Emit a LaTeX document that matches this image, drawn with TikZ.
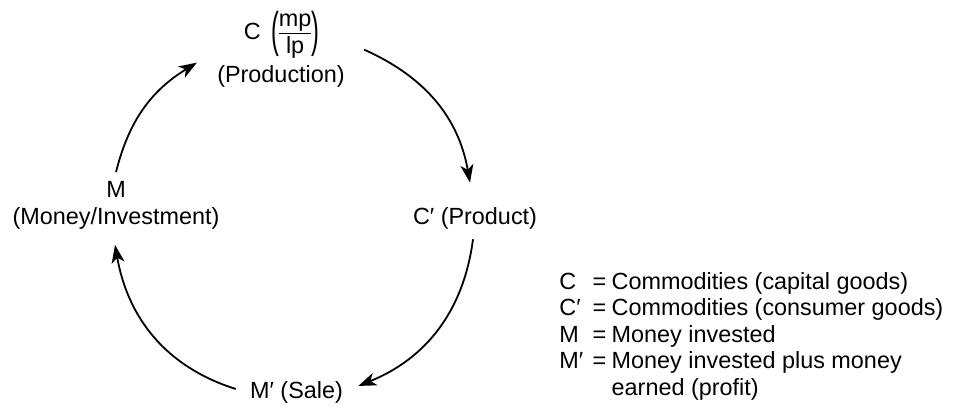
\documentclass[tikz,border=0pt]{standalone}
\usepackage{graphicx}
\usepackage{fontspec}
\setmainfont{Liberation Sans}
\usepackage{tikz}
\usetikzlibrary{arrows.meta}
\newcommand{\keyrow}[2]{\makebox[1.42em][l]{#1}=\hspace{2.7pt}#2}
\newcommand{\tallparen}[1]{\raisebox{-3.4pt}{\scalebox{1}[2.08]{#1}}}
\newcommand{\stagefrac}[2]{%
  \setbox0=\hbox{#1}\setbox2=\hbox{#2}%
  \dimen0=\wd0 \ifdim\wd2>\dimen0 \dimen0=\wd2 \fi
  \raisebox{-6.86pt}{\vbox{\hbox to\dimen0{\hss\box0\hss}\kern1pt
    \hrule height 0.5pt\kern1.2pt\hbox to\dimen0{\hss\box2\hss}}}}

\begin{document}
\begin{tikzpicture}[
  x=0.5pt, y=0.5pt,
  every node/.style={font=\fontsize{11.7}{13.5}\selectfont, inner sep=3pt},
  stagelabel/.style={align=center},
  cyclelink/.style={
    -{Stealth[length=9pt, width=6.5pt, inset=2.5pt]},
    line width=0.9pt,
  },
  keytext/.style={
    font=\fontsize{11.7}{13.25}\selectfont,
    anchor=north west,
    inner sep=0pt,
    align=left,
  },
]
  \useasboundingbox (0,0) rectangle (956,408);

  \node[stagelabel, anchor=base] (cmp) at (281.5,368)
    {C\hspace{5.2pt}\tallparen{(}\stagefrac{mp}{lp}\tallparen{)}};
  \node[stagelabel, anchor=base] (prod) at (281,326) {(Production)};
  \node[stagelabel] (money) at (116,202.5) {M\\(Money/Investment)};
  \node[stagelabel, anchor=base] (product) at (475,184) {C′ (Product)};
  \node[stagelabel, anchor=base] (sale) at (296.5,10) {M′ (Sale)};

  \node[keytext] (key) at (559,136) {%
    \keyrow{C}{Commodities (capital goods)}\\
    \keyrow{C′}{Commodities (consumer goods)}\\
    \keyrow{M}{Money invested}\\
    \keyrow{M′}{Money invested plus money}\\
    \makebox[1.42em]{}\phantom{=}\hspace{2.7pt}earned (profit)};

  \draw[cyclelink] ([yshift=1.5pt]money.north)
    to[out=76, in=211.5] ([xshift=-7pt, yshift=-2pt]prod.north west);
  \draw[cyclelink] ([xshift=6.5pt, yshift=4.5pt]prod.north east)
    to[out=-24, in=100] ([xshift=-2.5pt, yshift=9pt]product.north);
  \draw[cyclelink] ([xshift=-1pt, yshift=-2pt]product.south)
    to[out=-97.5, in=22] ([xshift=4.5pt, yshift=3pt]sale.east);
  \draw[cyclelink] ([xshift=-4pt, yshift=1.5pt]sale.west)
    to[out=162.5, in=-80] ([xshift=-0.5pt, yshift=-4.5pt]money.south);
\end{tikzpicture}
\end{document}
